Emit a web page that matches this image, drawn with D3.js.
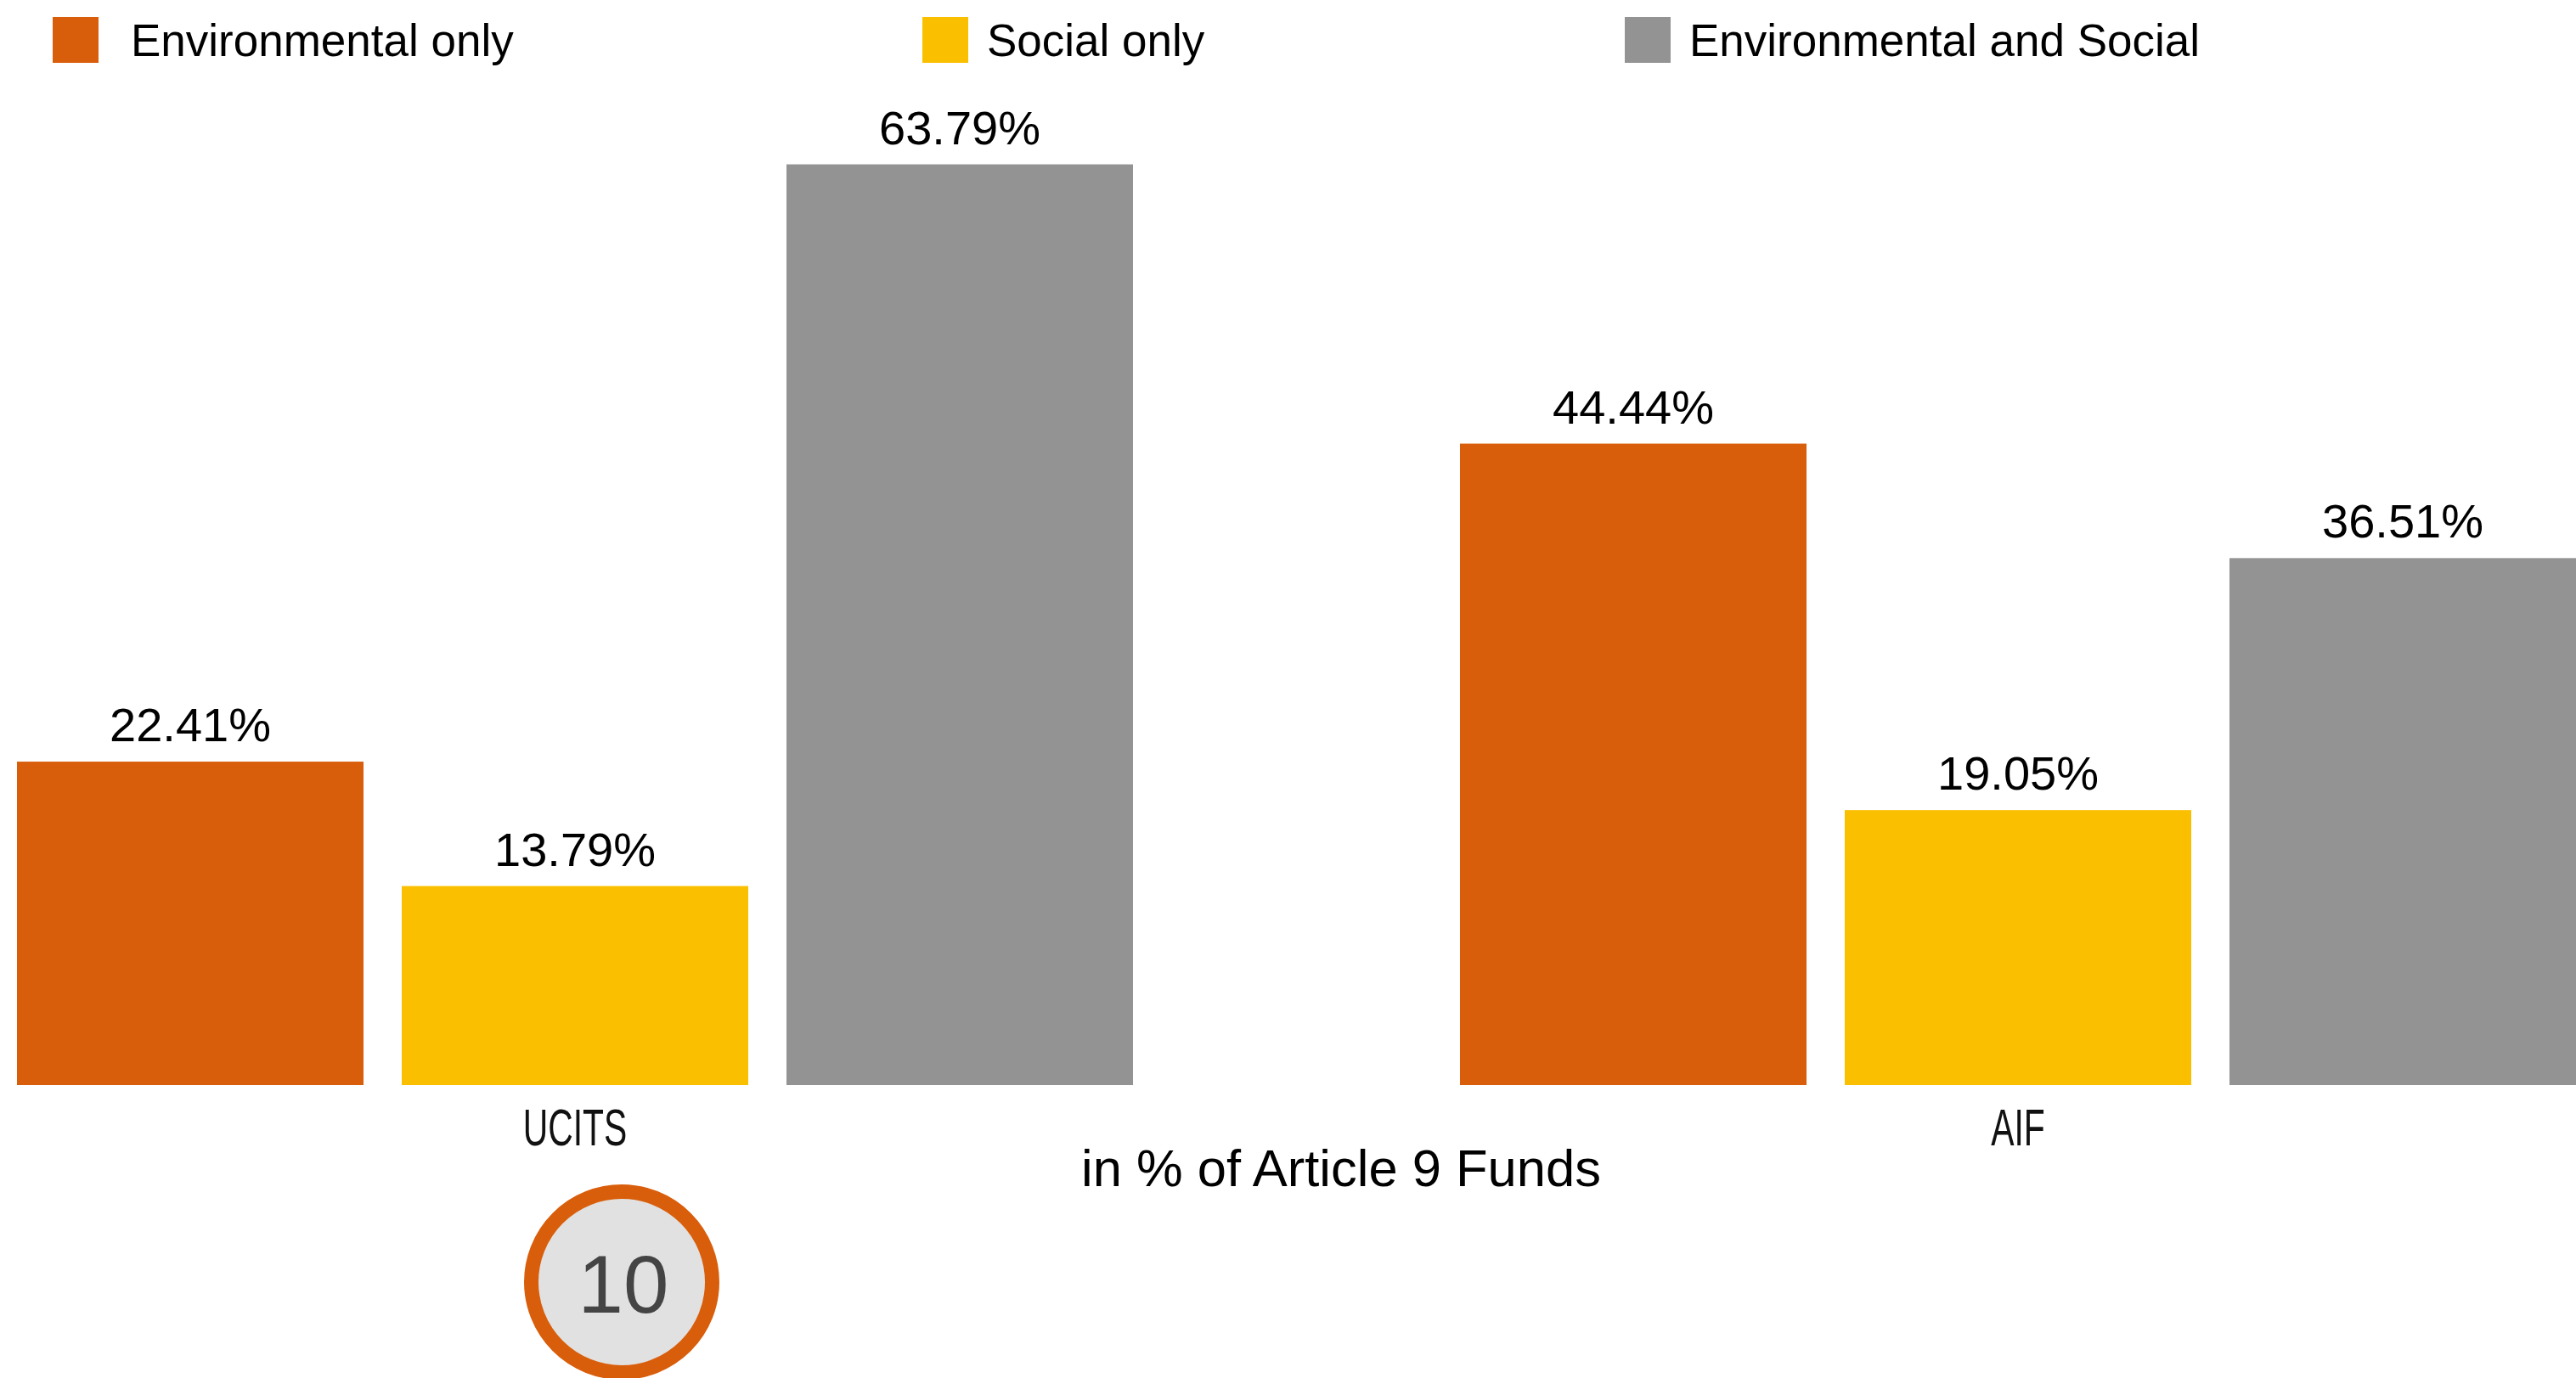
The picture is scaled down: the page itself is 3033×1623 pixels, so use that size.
<!DOCTYPE html>
<html>
<head>
<meta charset="utf-8">
<script src="https://cdn.jsdelivr.net/npm/d3@7"></script>
<style>
  html, body { margin: 0; padding: 0; background: #ffffff; }
  svg { display: block; }
  text { font-family: "Liberation Sans", Arial, Helvetica, sans-serif; }
</style>
</head>
<body>
<svg id="chart" width="3033" height="1623"></svg>
<script>
// Fund types on the x axis
const groups = ["UCITS", "AIF"];
// Sustainability objective series
const seriesNames = ["Environmental only", "Social only", "Environmental and Social"];
const seriesColors = ["#D95E0B", "#FAC000", "#939393"];
// Share of Article 9 funds (%), one array per series, ordered as in groups
const environmentalOnly = [22.41, 44.44];
const socialOnly = [13.79, 19.05];
const environmentalAndSocial = [63.79, 36.51];
const axisTitle = "in % of Article 9 Funds";
const badgeText = "10";

const seriesValues = [environmentalOnly, socialOnly, environmentalAndSocial];
const rows = groups.map((g, gi) => ({
  group: g,
  bars: seriesNames.map((s, si) => ({ series: s, value: seriesValues[si][gi], color: seriesColors[si] }))
}));

const baseline = 1278;
const svg = d3.select("#chart");

const x0 = d3.scaleBand().domain(groups).range([20, 3033]).paddingInner(0.2266).paddingOuter(0);
const x1 = d3.scaleBand().domain(seriesNames).range([0, x0.bandwidth()]).paddingInner(45 / 453).paddingOuter(0);
const y = d3.scaleLinear().domain([0, 100]).range([baseline, baseline - 1700]);

// Bars and value labels
const gGroups = svg.append("g").selectAll("g.group")
  .data(rows).join("g")
  .attr("class", "group")
  .attr("transform", d => `translate(${x0(d.group)},0)`);

gGroups.selectAll("rect")
  .data(d => d.bars).join("rect")
  .attr("x", d => x1(d.series))
  .attr("y", d => y(d.value))
  .attr("width", x1.bandwidth())
  .attr("height", d => y(0) - y(d.value))
  .attr("fill", d => d.color);

gGroups.selectAll("text.value")
  .data(d => d.bars).join("text")
  .attr("class", "value")
  .attr("x", d => x1(d.series) + x1.bandwidth() / 2)
  .attr("y", d => y(d.value) - 24)
  .attr("text-anchor", "middle")
  .attr("font-size", 56)
  .attr("fill", "#000")
  .text(d => d.value.toFixed(2) + "%");

// Category axis (condensed light labels, no line)
const axisG = svg.append("g")
  .attr("transform", `translate(0,${baseline})`)
  .call(d3.axisBottom(x0).tickSize(0));
axisG.select(".domain").remove();
axisG.selectAll(".tick text")
  .attr("y", 71)
  .attr("dy", 0)
  .attr("font-size", 61)
  .attr("font-family", "Inter, 'Liberation Sans', Arial, sans-serif")
  .attr("font-weight", 300)
  .attr("fill", "#111")
  .attr("transform", "scale(0.67,1)");

// Axis title
svg.append("text")
  .attr("x", 1579)
  .attr("y", 1397)
  .attr("text-anchor", "middle")
  .attr("font-size", 61.5)
  .attr("fill", "#000")
  .text(axisTitle);

// Legend
const legendX = [62, 1086, 1913];
const legendTextX = [154, 1162, 1989];
const legend = svg.append("g").selectAll("g")
  .data(seriesNames).join("g");
legend.append("rect")
  .attr("x", (d, i) => legendX[i])
  .attr("y", 20)
  .attr("width", 54)
  .attr("height", 54)
  .attr("fill", (d, i) => seriesColors[i]);
legend.append("text")
  .attr("x", (d, i) => legendTextX[i])
  .attr("y", 66)
  .attr("font-size", 53)
  .attr("fill", "#000")
  .text(d => d);

// Page-number badge
const badge = svg.append("g").attr("transform", "translate(732,1510)");
badge.append("circle")
  .attr("r", 106.5)
  .attr("fill", "#E1E1E1")
  .attr("stroke", "#D95E0B")
  .attr("stroke-width", 17);
badge.append("text")
  .attr("x", 2)
  .attr("y", 36)
  .attr("text-anchor", "middle")
  .attr("font-size", 96)
  .attr("font-family", "Inter, 'Liberation Sans', sans-serif")
  .attr("font-weight", 200)
  .attr("fill", "#444")
  .text(badgeText);
</script>
</body>
</html>
